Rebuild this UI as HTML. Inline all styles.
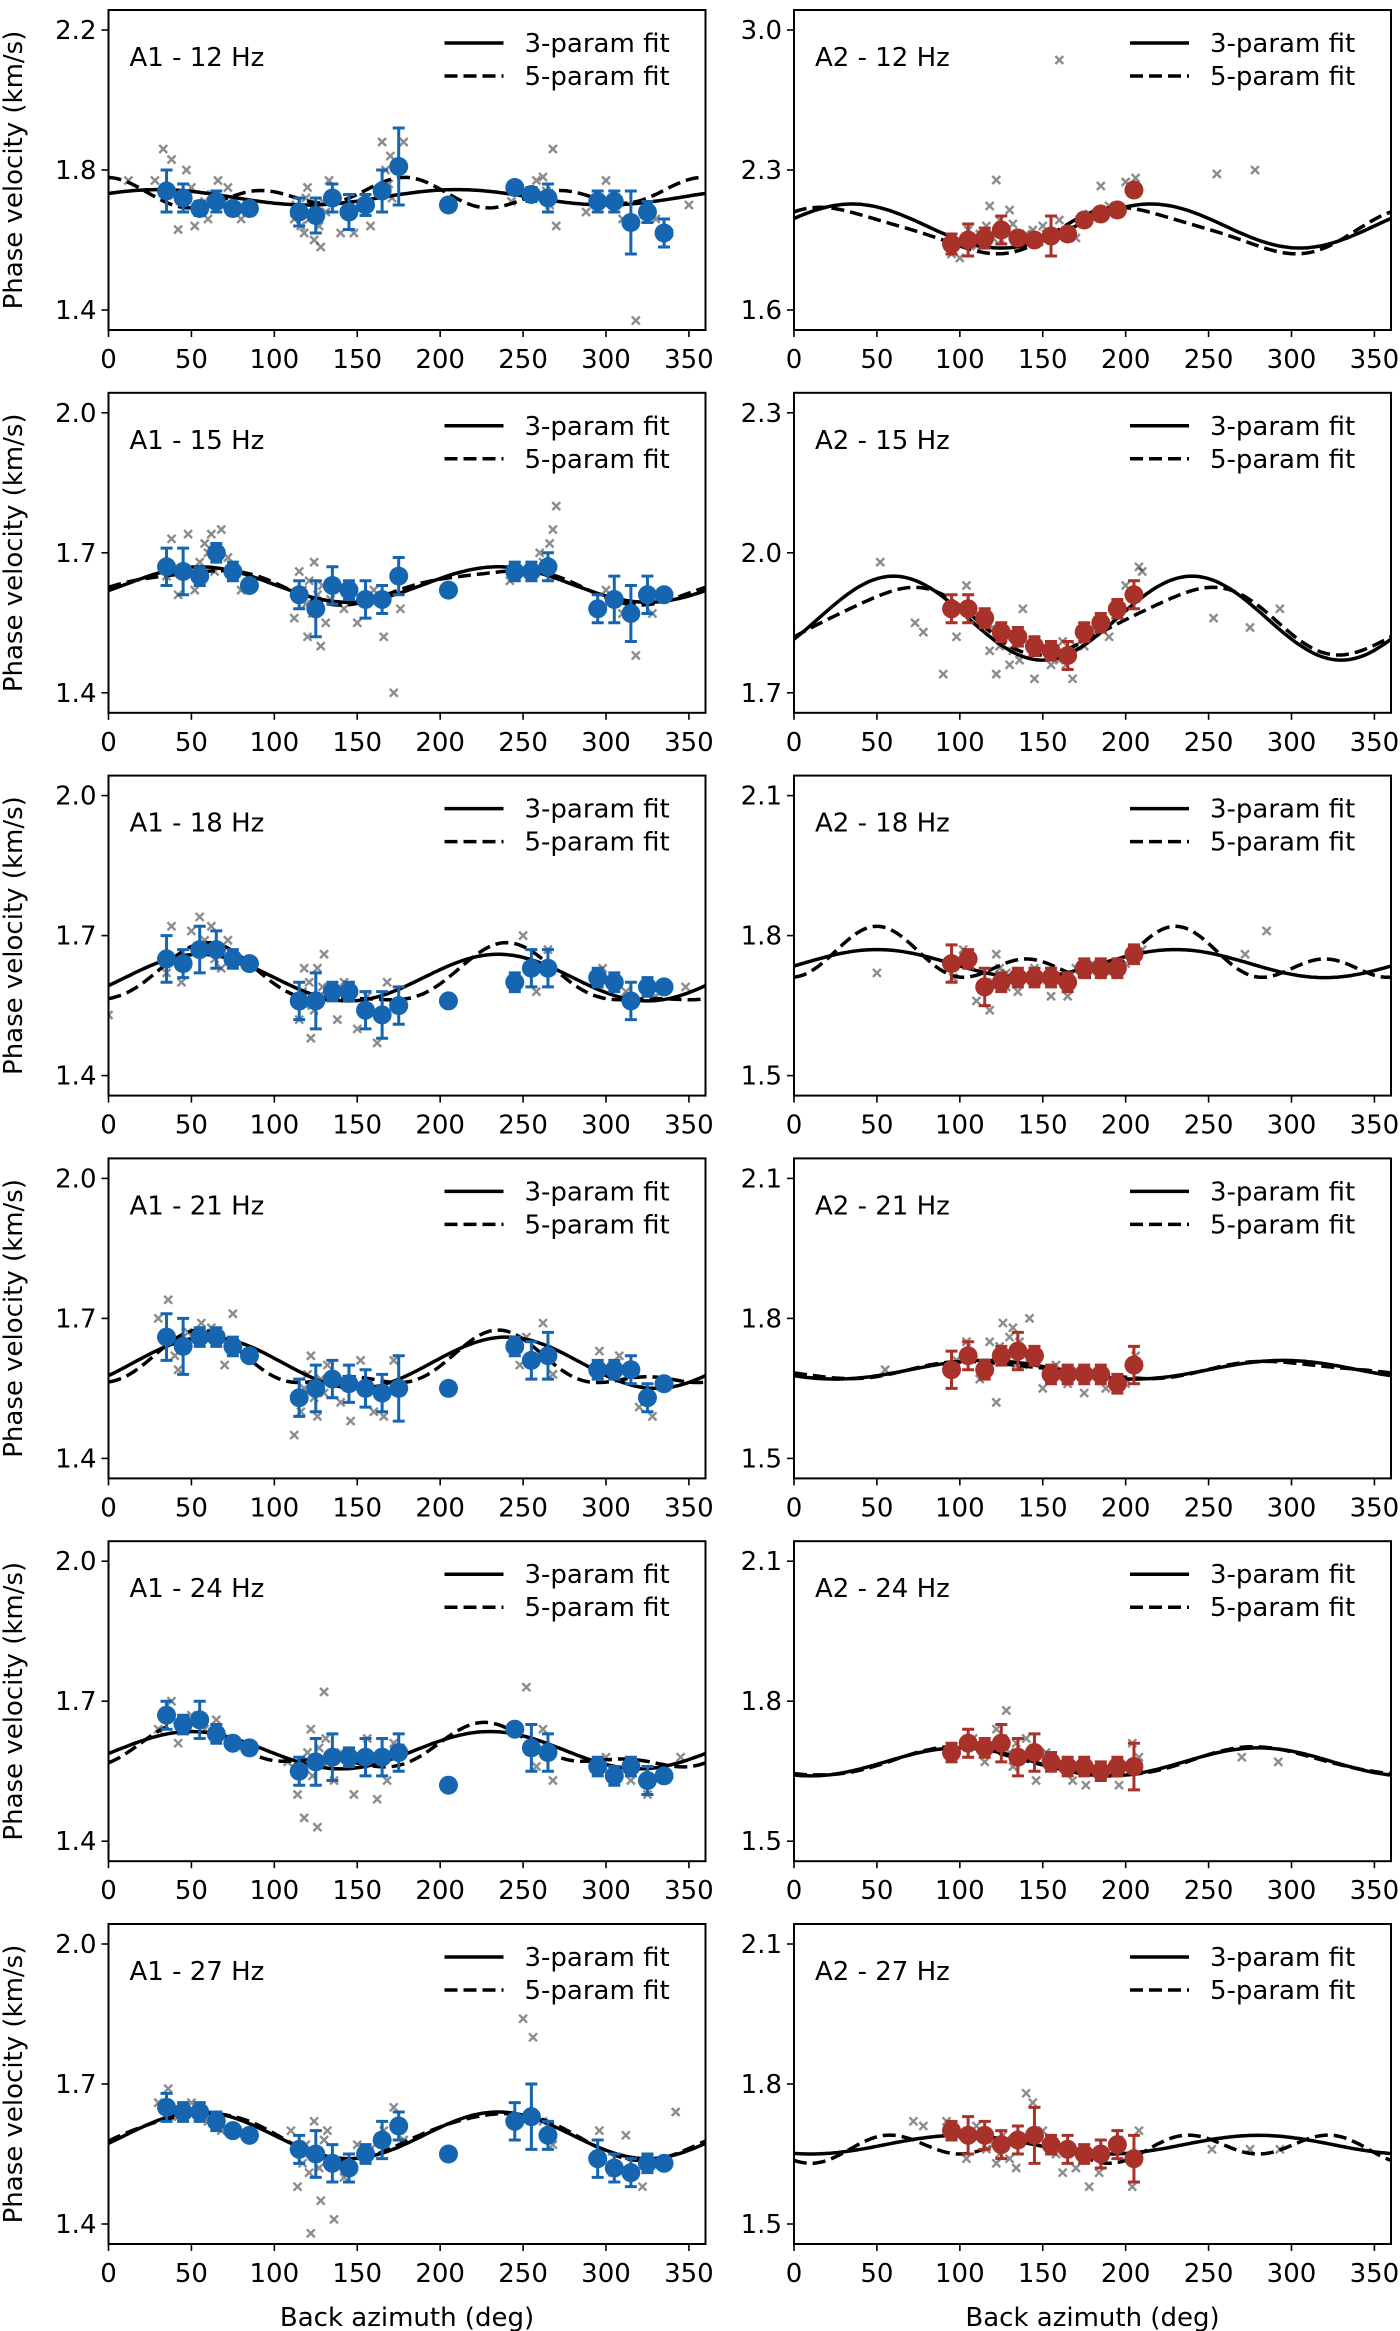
<!DOCTYPE html>
<html><head><meta charset="utf-8">
<style>
html,body{margin:0;padding:0;background:#fff;}
svg{display:block;font-family:"DejaVu Sans","Liberation Sans",sans-serif;}
</style></head>
<body>
<svg id="fig" width="1400" height="2331" viewBox="0 0 1400 2331" xmlns="http://www.w3.org/2000/svg"></svg>
<script>
// ---- data ----
const panelTitles = ["A1 - 12 Hz","A2 - 12 Hz","A1 - 15 Hz","A2 - 15 Hz","A1 - 18 Hz","A2 - 18 Hz","A1 - 21 Hz","A2 - 21 Hz","A1 - 24 Hz","A2 - 24 Hz","A1 - 27 Hz","A2 - 27 Hz"];
const yTickLabels = [["2.2","1.8","1.4"],["3.0","2.3","1.6"],["2.0","1.7","1.4"],["2.3","2.0","1.7"],["2.0","1.7","1.4"],["2.1","1.8","1.5"],["2.0","1.7","1.4"],["2.1","1.8","1.5"],["2.0","1.7","1.4"],["2.1","1.8","1.5"],["2.0","1.7","1.4"],["2.1","1.8","1.5"]];
const xTickLabels = [0,50,100,150,200,250,300,350];
// 3-param fit: [c, A2, phase2]; 5-param fit: [c, A2, phase2, A4, phase4]
const fit3 = [[1.722,0.022,30],[2.02,0.11,35],[1.632,0.038,55],[1.86,0.09,60],[1.61,0.05,55],[1.74,0.03,50],[1.605,0.055,60],[1.69,0.02,115],[1.595,0.04,50],[1.67,0.03,100],[1.59,0.05,55],[1.67,0.02,100]];
const fit5 = [[1.73,0.02,170,0.03,0],[2.0,0.11,25,0.02,0],[1.63,0.035,55,0.008,0],[1.855,0.07,65,0.01,0],[1.605,0.06,60,0.02,60],[1.75,0.035,50,0.035,50],[1.60,0.05,55,0.025,55],[1.69,0.017,115,0.004,0],[1.595,0.04,50,0.02,45],[1.67,0.03,100,0.003,0],[1.59,0.05,55,0.005,0],[1.665,0.01,100,0.025,55]];
const azA1 = [35,45,55,65,75,85,115,125,135,145,155,165,175,205,245,255,265,295,305,315,325,335];
const azA2 = [95,105,115,125,135,145,155,165,175,185,195,205];
const binVel = [
 [1.74,1.72,1.69,1.71,1.69,1.69,1.68,1.67,1.72,1.68,1.70,1.74,1.81,1.70,1.75,1.73,1.72,1.71,1.71,1.65,1.68,1.62],
 [1.93,1.95,1.96,2.00,1.96,1.95,1.97,1.98,2.05,2.08,2.10,2.20],
 [1.67,1.66,1.65,1.70,1.66,1.63,1.61,1.58,1.63,1.62,1.60,1.60,1.65,1.62,1.66,1.66,1.67,1.58,1.60,1.57,1.61,1.61],
 [1.88,1.88,1.86,1.83,1.82,1.80,1.79,1.78,1.83,1.85,1.88,1.91],
 [1.65,1.64,1.67,1.67,1.65,1.64,1.56,1.56,1.58,1.58,1.54,1.53,1.55,1.56,1.60,1.63,1.63,1.61,1.60,1.56,1.59,1.59],
 [1.74,1.75,1.69,1.70,1.71,1.71,1.71,1.70,1.73,1.73,1.73,1.76],
 [1.66,1.64,1.66,1.66,1.64,1.62,1.53,1.55,1.57,1.56,1.55,1.54,1.55,1.55,1.64,1.61,1.62,1.59,1.59,1.59,1.53,1.56],
 [1.69,1.72,1.69,1.72,1.73,1.72,1.68,1.68,1.68,1.68,1.66,1.70],
 [1.67,1.65,1.66,1.63,1.61,1.60,1.55,1.57,1.58,1.58,1.58,1.58,1.59,1.52,1.64,1.60,1.59,1.56,1.54,1.56,1.53,1.54],
 [1.69,1.71,1.70,1.71,1.68,1.69,1.67,1.66,1.66,1.65,1.66,1.66],
 [1.65,1.64,1.64,1.62,1.60,1.59,1.56,1.55,1.53,1.52,1.55,1.58,1.61,1.55,1.62,1.63,1.59,1.54,1.52,1.51,1.53,1.53],
 [1.70,1.69,1.69,1.67,1.68,1.69,1.67,1.66,1.65,1.65,1.67,1.64]
];
const binErr = [
 [0.06,0.04,0.02,0.03,0.01,0.01,0.04,0.05,0.04,0.05,0.03,0.06,0.11,0.01,0.01,0.02,0.04,0.03,0.03,0.09,0.03,0.04],
 [0.05,0.08,0.05,0.07,0.03,0.03,0.10,0.03,0.03,0.03,0.03,0.03],
 [0.04,0.05,0.02,0.02,0.02,0.01,0.03,0.06,0.04,0.02,0.04,0.03,0.04,0.01,0.02,0.02,0.03,0.03,0.05,0.06,0.04,0.01],
 [0.03,0.03,0.02,0.02,0.02,0.02,0.02,0.03,0.02,0.02,0.02,0.03],
 [0.05,0.03,0.05,0.04,0.02,0.01,0.04,0.06,0.02,0.02,0.04,0.05,0.04,0.01,0.02,0.04,0.04,0.02,0.02,0.04,0.02,0.01],
 [0.04,0.02,0.04,0.02,0.02,0.02,0.02,0.02,0.02,0.02,0.02,0.02],
 [0.05,0.06,0.02,0.02,0.02,0.01,0.04,0.05,0.04,0.04,0.04,0.04,0.07,0.01,0.02,0.04,0.05,0.02,0.02,0.03,0.03,0.01],
 [0.04,0.03,0.02,0.02,0.04,0.02,0.02,0.02,0.02,0.02,0.02,0.04],
 [0.03,0.02,0.04,0.02,0.01,0.01,0.03,0.05,0.05,0.02,0.04,0.04,0.04,0.01,0.01,0.05,0.04,0.02,0.02,0.02,0.03,0.01],
 [0.02,0.03,0.02,0.04,0.04,0.04,0.02,0.02,0.02,0.02,0.02,0.05],
 [0.03,0.02,0.02,0.02,0.01,0.01,0.03,0.05,0.04,0.03,0.02,0.04,0.03,0.01,0.04,0.07,0.03,0.04,0.03,0.03,0.02,0.01],
 [0.02,0.04,0.03,0.03,0.03,0.06,0.02,0.03,0.02,0.03,0.03,0.05]
];
// individual measurements (grey crosses): flattened [az, v, az, v, ...]
const scatterVals = [
 [12,1.77,28,1.77,33,1.86,38,1.83,42,1.63,47,1.80,52,1.64,60,1.66,66,1.77,72,1.75,80,1.66,112,1.66,118,1.62,120,1.75,124,1.60,128,1.58,133,1.77,140,1.62,148,1.62,158,1.64,165,1.88,170,1.84,178,1.88,243,1.71,258,1.77,268,1.86,270,1.64,288,1.68,300,1.77,310,1.66,318,1.37,330,1.66,338,1.62,350,1.70,113,1.70,116,1.64,119,1.72,121,1.66,123,1.69,127,1.64,129,1.71,131,1.68,167,1.80,169,1.76,171,1.72,262,1.78,266,1.70,264,1.74,50,1.75,58,1.71,62,1.73,68,1.70],
 [95,1.88,100,1.86,105,2.00,110,1.92,118,2.12,122,2.25,125,1.95,130,2.10,135,1.92,140,1.98,150,2.02,160,2.05,170,1.96,178,2.08,190,2.12,200,2.24,206,2.26,160,2.85,185,2.22,255,2.28,278,2.30,112,1.98,116,2.02,120,1.96,124,2.05,128,1.99,132,2.03,138,1.96,144,2.00,148,1.94,152,1.98],
 [35,1.65,38,1.73,42,1.61,48,1.74,52,1.62,58,1.72,62,1.74,68,1.75,72,1.69,80,1.62,112,1.56,115,1.66,120,1.52,124,1.68,128,1.50,134,1.60,142,1.58,150,1.55,160,1.62,166,1.52,172,1.40,176,1.58,242,1.64,260,1.70,268,1.75,270,1.80,300,1.62,310,1.57,318,1.48,328,1.57,117,1.62,119,1.59,121,1.64,123,1.57,126,1.61,129,1.63,131,1.55,55,1.68,60,1.70,64,1.66,266,1.72,262,1.68],
 [52,1.98,73,1.85,78,1.83,90,1.74,98,1.82,104,1.93,112,1.86,118,1.79,122,1.74,130,1.76,138,1.88,145,1.73,155,1.76,162,1.81,168,1.73,175,1.80,182,1.83,190,1.82,200,1.93,208,1.97,210,1.96,253,1.86,275,1.84,293,1.88,120,1.84,124,1.80,128,1.82,132,1.79,136,1.77,160,1.77,164,1.76,170,1.80],
 [0,1.53,35,1.62,38,1.72,44,1.60,50,1.71,55,1.74,62,1.72,68,1.63,72,1.69,115,1.52,118,1.63,122,1.48,126,1.63,130,1.66,138,1.52,142,1.60,150,1.50,156,1.57,162,1.47,168,1.60,172,1.55,250,1.70,258,1.58,265,1.67,298,1.63,312,1.58,330,1.57,348,1.59,117,1.58,119,1.55,121,1.60,124,1.54,127,1.57,129,1.59,58,1.69,64,1.65],
 [50,1.72,96,1.71,102,1.77,110,1.66,118,1.64,122,1.76,128,1.72,135,1.68,145,1.73,155,1.67,165,1.67,170,1.73,180,1.74,190,1.72,200,1.74,210,1.77,272,1.76,285,1.81,120,1.70,124,1.73,128,1.69,132,1.71],
 [30,1.70,36,1.74,42,1.59,48,1.67,56,1.69,62,1.68,70,1.60,75,1.71,112,1.45,116,1.50,122,1.62,126,1.49,132,1.60,140,1.52,146,1.48,152,1.61,160,1.50,166,1.49,172,1.61,248,1.60,252,1.66,262,1.69,268,1.58,296,1.63,308,1.62,320,1.51,328,1.49,118,1.55,120,1.58,124,1.53,128,1.57,130,1.54,40,1.62,44,1.64],
 [98,1.71,104,1.75,112,1.67,118,1.75,122,1.62,126,1.79,132,1.78,138,1.70,142,1.80,150,1.65,158,1.70,165,1.66,175,1.64,188,1.65,200,1.66,206,1.72,55,1.69,170,1.69,124,1.74,128,1.72,130,1.76,134,1.70,136,1.75],
 [30,1.64,38,1.70,42,1.61,50,1.67,58,1.64,65,1.66,108,1.57,114,1.50,118,1.45,122,1.64,126,1.43,130,1.72,136,1.53,140,1.59,148,1.50,156,1.62,162,1.49,168,1.53,172,1.61,176,1.60,252,1.73,258,1.56,262,1.64,268,1.53,300,1.58,315,1.53,325,1.50,345,1.58,117,1.56,120,1.59,123,1.54,127,1.60,129,1.57,131,1.62],
 [95,1.69,108,1.72,115,1.67,122,1.74,128,1.78,132,1.66,140,1.72,146,1.63,152,1.69,160,1.66,168,1.63,176,1.62,186,1.64,196,1.62,204,1.71,208,1.68,270,1.68,292,1.67,124,1.70,126,1.72,130,1.69,134,1.71],
 [30,1.66,36,1.69,42,1.63,50,1.66,60,1.62,68,1.60,110,1.60,114,1.48,118,1.55,122,1.38,124,1.62,128,1.45,132,1.60,136,1.41,142,1.50,150,1.57,158,1.56,166,1.60,172,1.65,178,1.58,250,1.84,256,1.80,262,1.62,268,1.57,296,1.60,304,1.51,312,1.59,322,1.48,342,1.64,117,1.53,119,1.57,121,1.51,125,1.55,127,1.52,130,1.58],
 [72,1.72,78,1.71,92,1.72,98,1.69,104,1.64,110,1.71,116,1.66,122,1.63,128,1.68,134,1.62,140,1.78,144,1.76,150,1.70,158,1.65,162,1.61,170,1.62,178,1.58,184,1.61,196,1.68,204,1.58,208,1.70,252,1.66,275,1.66,293,1.66,120,1.67,124,1.65,126,1.69,130,1.64,132,1.68]
];
// ---- layout ----
const svg = document.getElementById('fig');
const NS = 'http://www.w3.org/2000/svg';
const colLeft = [108.5, 794], plotW = 597, plotH = 320, rowTop0 = 10, rowStep = 382.8;
function mk(tag, attrs, parent){ const e=document.createElementNS(NS,tag); for(const k in attrs) e.setAttribute(k,attrs[k]); (parent||svg).appendChild(e); return e; }
function fitVal(p,t){ const r=Math.PI/180; let v=p[0]+p[1]*Math.cos(2*(t-p[2])*r); if(p.length>3) v+=p[3]*Math.cos(4*(t-p[4])*r); return v; }

for(let i=0;i<12;i++){
  const col=i%2, row=Math.floor(i/2);
  const L=colLeft[col], T=rowTop0+row*rowStep;
  const ticks=yTickLabels[i].map(Number);
  const yTop=T+20, yBot=T+300;
  const vTop=ticks[0], vBot=ticks[2];
  const ys=v=>yBot-(v-vBot)/(vTop-vBot)*(yBot-yTop);
  const xs=a=>L+a/360*plotW;
  const g=mk('g',{});
  
  
  const clipId='clip'+i;
  const cp=mk('clipPath',{id:clipId},g); mk('rect',{x:L,y:T,width:plotW,height:plotH},cp);
  const data=mk('g',{'clip-path':'url(#'+clipId+')'},g);
  const sc=scatterVals[i];
  for(let k=0;k<sc.length;k+=2){
    const x=xs(sc[k]), y=ys(sc[k+1]);
    const c=mk('path',{d:`M${x-4},${y-4}L${x+4},${y+4}M${x-4},${y+4}L${x+4},${y-4}`,stroke:'rgba(0,0,0,0.45)','stroke-width':2.4},data);
    
    
  }
  let d3='',d5='';
  for(let a=0;a<=360;a+=2){ d3+=(a?'L':'M')+xs(a).toFixed(1)+','+ys(fitVal(fit3[i],a)).toFixed(1); d5+=(a?'L':'M')+xs(a).toFixed(1)+','+ys(fitVal(fit5[i],a)).toFixed(1); }
  const l3=mk('path',{d:d3,fill:'none',stroke:'#000','stroke-width':3.5},data);
  
  
  const l5=mk('path',{d:d5,fill:'none',stroke:'#000','stroke-width':3.5,'stroke-dasharray':'13,6'},data);
  
  
  const az=col===0?azA1:azA2, color=col===0?'#1565b0':'#a8322a';
  for(let k=0;k<az.length;k++){
    const x=xs(az[k]), y=ys(binVel[i][k]), e=binErr[i][k];
    const y1=ys(binVel[i][k]+e), y2=ys(binVel[i][k]-e);
    const eb=mk('path',{d:`M${x},${y1}L${x},${y2}M${x-6},${y1}L${x+6},${y1}M${x-6},${y2}L${x+6},${y2}`,stroke:color,'stroke-width':3},data);
    
    
    const pt=mk('circle',{cx:x,cy:y,r:9.5,fill:color},data);
    
    
  }
  const fr=mk('rect',{x:L,y:T,width:plotW,height:plotH,fill:'none',stroke:'#000','stroke-width':2},g);
  
  
  for(let k=0;k<3;k++){
    const y=yTop+k*(yBot-yTop)/2;
    mk('line',{x1:L-7,x2:L,y1:y,y2:y,stroke:'#000','stroke-width':1.6},g);
    const t=mk('text',{x:L-12,y:y+9,'text-anchor':'end','font-size':26},g);
    t.textContent=yTickLabels[i][k];
    
    
  }
  for(const v of xTickLabels){
    const x=xs(v);
    mk('line',{x1:x,x2:x,y1:T+plotH,y2:T+plotH+7,stroke:'#000','stroke-width':1.6},g);
    const t=mk('text',{x:x,y:T+plotH+38,'text-anchor':'middle','font-size':26},g);
    t.textContent=v;
    
    
  }
  const ti=mk('text',{x:L+21,y:T+56,'font-size':26},g);
  ti.textContent=panelTitles[i];
  
  
  const lg=mk('g',{},g);
  
  
  mk('line',{x1:L+336,x2:L+395,y1:T+33,y2:T+33,stroke:'#000','stroke-width':3.5},lg);
  mk('line',{x1:L+336,x2:L+395,y1:T+66,y2:T+66,stroke:'#000','stroke-width':3.5,'stroke-dasharray':'13,6'},lg);
  const t1=mk('text',{x:L+416,y:T+42,'font-size':26},lg); t1.textContent='3-param fit';
  
  
  const t2=mk('text',{x:L+416,y:T+75,'font-size':26},lg); t2.textContent='5-param fit';
  
  
  if(col===0){
    const yt=mk('text',{x:0,y:0,'font-size':26,'text-anchor':'middle',transform:`translate(22,${T+plotH/2}) rotate(-90)`},g);
    yt.textContent='Phase velocity (km/s)';
    
    
  }
  if(row===5){
    const xt=mk('text',{x:L+plotW/2,y:T+plotH+82,'font-size':26,'text-anchor':'middle'},g);
    xt.textContent='Back azimuth (deg)';
    
    
  }
}
</script>
</body></html>
